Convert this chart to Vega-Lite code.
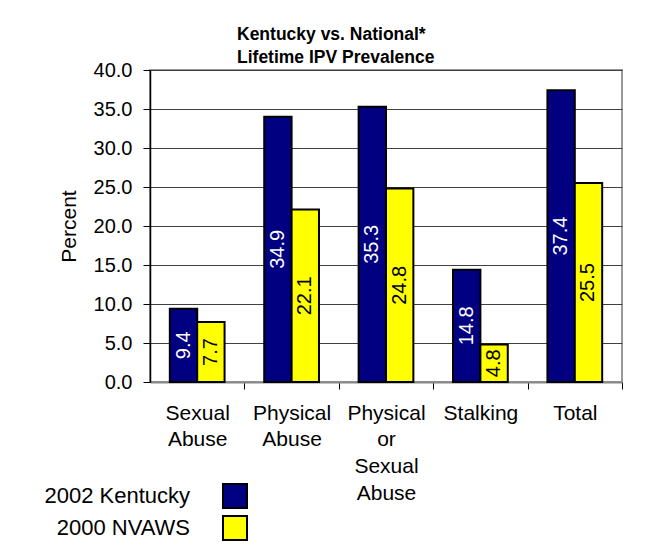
{
  "$schema": "https://vega.github.io/schema/vega-lite/v6.json",
  "width": 472,
  "height": 312,
  "autosize": {"type": "none"},
  "padding": {"left": 150, "top": 70, "right": 31, "bottom": 168},
  "background": "white",
  "title": {
    "text": ["Kentucky vs. National*", "Lifetime IPV Prevalence"],
    "anchor": "start",
    "frame": "group",
    "dx": 87,
    "fontSize": 17.5,
    "font": "Liberation Sans",
    "fontWeight": "bold",
    "lineHeight": 23,
    "offset": -6,
    "color": "black"
  },
  "data": {
    "values": [
      {"category": "Sexual Abuse", "series": "2002 Kentucky", "value": 9.4, "label": "9.4"},
      {"category": "Sexual Abuse", "series": "2000 NVAWS", "value": 7.7, "label": "7.7"},
      {"category": "Physical Abuse", "series": "2002 Kentucky", "value": 34.0, "label": "34.9"},
      {"category": "Physical Abuse", "series": "2000 NVAWS", "value": 22.1, "label": "22.1"},
      {"category": "Physical or Sexual Abuse", "series": "2002 Kentucky", "value": 35.3, "label": "35.3"},
      {"category": "Physical or Sexual Abuse", "series": "2000 NVAWS", "value": 24.8, "label": "24.8"},
      {"category": "Stalking", "series": "2002 Kentucky", "value": 14.4, "label": "14.8"},
      {"category": "Stalking", "series": "2000 NVAWS", "value": 4.8, "label": "4.8"},
      {"category": "Total", "series": "2002 Kentucky", "value": 37.4, "label": "37.4"},
      {"category": "Total", "series": "2000 NVAWS", "value": 25.5, "label": "25.5"}
    ]
  },
  "encoding": {
    "x": {
      "field": "category",
      "type": "nominal",
      "sort": ["Sexual Abuse", "Physical Abuse", "Physical or Sexual Abuse", "Stalking", "Total"],
      "scale": {"paddingInner": 0.42, "paddingOuter": 0.21},
      "axis": {
        "title": null,
        "labelExpr": "split(datum.label, ' ')",
        "labelAngle": 0,
        "labelFontSize": 21,
        "labelFont": "Liberation Sans",
        "labelLineHeight": 26.7,
        "labelColor": "black",
        "labelPadding": 13,
        "tickSize": 7,
        "tickColor": "black",
        "tickOffset": 47.2,
        "labelOffset": -47.2,
        "domainColor": "#888888",
        "domainWidth": 2,
        "grid": false
      }
    },
    "xOffset": {"field": "series", "type": "nominal", "sort": ["2002 Kentucky", "2000 NVAWS"]}
  },
  "layer": [
    {
      "mark": {"type": "bar", "stroke": "black", "strokeWidth": 2},
      "encoding": {
        "y": {
          "field": "value",
          "type": "quantitative",
          "scale": {"domain": [0, 40]},
          "axis": {
            "title": "Percent",
            "titleFontSize": 21,
            "titleFont": "Liberation Sans",
            "titleFontWeight": "normal",
            "titleColor": "black",
            "titlePadding": 14,
            "values": [0, 5, 10, 15, 20, 25, 30, 35, 40],
            "format": ".1f",
            "labelFontSize": 20,
            "labelFont": "Liberation Sans",
            "labelColor": "black",
            "labelPadding": 11,
            "tickSize": 7,
            "tickColor": "black",
            "domainColor": "black",
            "domainWidth": 1.5,
            "grid": true,
            "gridColor": "#404040",
            "gridWidth": 1
          }
        },
        "color": {
          "field": "series",
          "type": "nominal",
          "scale": {"domain": ["2002 Kentucky", "2000 NVAWS"], "range": ["#000080", "#FFFF00"]},
          "legend": {
            "title": null,
            "orient": "none",
            "legendX": 72,
            "legendY": 413,
            "symbolType": "square",
            "symbolSize": 576,
            "symbolStrokeColor": "black",
            "symbolStrokeWidth": 2,
            "symbolOpacity": 1,
            "labelFontSize": 22,
            "labelFont": "Liberation Sans",
            "labelColor": "black",
            "labelAlign": "right",
            "labelOffset": -58,
            "rowPadding": 0
          }
        }
      }
    },
    {
      "mark": {"type": "text", "angle": 270, "fontSize": 20, "font": "Liberation Sans", "align": "center", "baseline": "middle"},
      "encoding": {
        "y": {"field": "value", "type": "quantitative", "scale": {"domain": [0, 80]}, "axis": null},
        "text": {"field": "label"},
        "color": {"condition": {"test": "datum.series === '2002 Kentucky'", "value": "white"}, "value": "black"}
      }
    }
  ],
  "resolve": {"scale": {"y": "independent"}},
  "config": {
    "view": {"stroke": "#999999", "strokeWidth": 2}
  }
}
